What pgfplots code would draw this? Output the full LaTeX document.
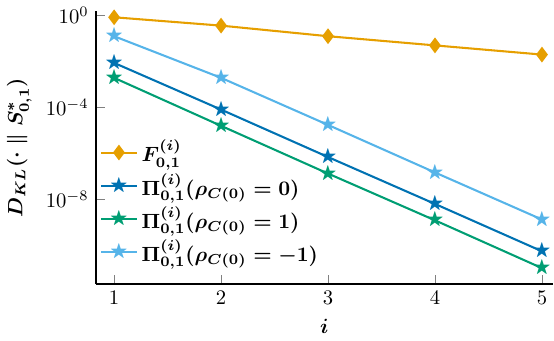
\documentclass[border=0pt]{standalone}
\usepackage{pgfplots}
\pgfplotsset{compat=1.18}
\usepackage{amsmath,amssymb}

\definecolor{colF}{HTML}{E69F00}
\definecolor{colA}{HTML}{0072B2}
\definecolor{colB}{HTML}{009E73}
\definecolor{colC}{HTML}{56B4E9}

\begin{document}
\begin{tikzpicture}
\begin{axis}[
  width=266pt, height=177pt,
  ymode=log,
  xmin=0.83, xmax=5.1,
  ymin=2e-12, ymax=1.48,
  xtick={1,2,3,4,5},
  ytick={1,1e-4,1e-8},
  axis x line*=bottom, axis y line*=left,
  axis line style={line width=0.8pt},
  xlabel={$\boldsymbol{i}$},
  ylabel={$\boldsymbol{D_{KL}(\cdot \parallel S^{*}_{0,1})}$},
  legend cell align=left,
  legend style={draw=none, fill=none, at={(-0.005,0.56)}, anchor=north west},
]
\addplot[color=colF, line width=1pt, mark=diamond*, mark size=3pt] coordinates {
  (1,0.82) (2,0.355) (3,0.123) (4,0.049) (5,0.0195)};
\addlegendentry{$\boldsymbol{F^{(i)}_{0,1}}$}
\addplot[color=colA, line width=1pt, mark=text, text mark={\small\textcolor{colA}{$\bigstar$}}] coordinates {
  (1,8.5e-3) (2,7.9e-5) (3,6.8e-7) (4,6.2e-9) (5,5.4e-11)};
\addlegendentry{$\boldsymbol{\Pi^{(i)}_{0,1}(\rho_{C(0)}=0)}$}
\addplot[color=colB, line width=1pt, mark=text, text mark={\small\textcolor{colB}{$\bigstar$}}] coordinates {
  (1,1.9e-3) (2,1.55e-5) (3,1.3e-7) (4,1.2e-9) (5,1.0e-11)};
\addlegendentry{$\boldsymbol{\Pi^{(i)}_{0,1}(\rho_{C(0)}=1)}$}
\addplot[color=colC, line width=1pt, mark=text, text mark={\small\textcolor{colC}{$\bigstar$}}] coordinates {
  (1,0.123) (2,1.9e-3) (3,1.7e-5) (4,1.45e-7) (5,1.3e-9)};
\addlegendentry{$\boldsymbol{\Pi^{(i)}_{0,1}(\rho_{C(0)}=-1)}$}
\end{axis}
\end{tikzpicture}
\end{document}
